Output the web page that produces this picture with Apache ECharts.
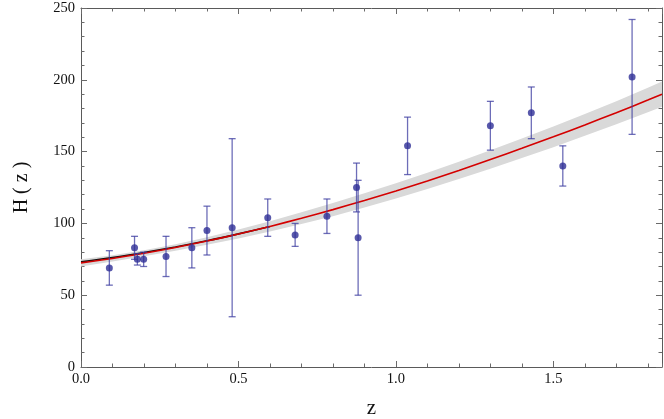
<!DOCTYPE html>
<html>
<head>
<meta charset="utf-8">
<script src="https://cdn.jsdelivr.net/npm/echarts@6/dist/echarts.min.js"></script>
<style>
  html, body { margin: 0; padding: 0; background: #fff; }
  #main { width: 664px; height: 419px; }
</style>
</head>
<body>
<div id="main"></div>
<script>
// observed H(z) points: redshift, value, error
var obsZ   = [0.09, 0.17, 0.179, 0.199, 0.27, 0.352, 0.40, 0.48, 0.593, 0.68, 0.781, 0.875, 0.88, 1.037, 1.30, 1.43, 1.53, 1.75];
var obsH   = [69, 83, 75, 75, 77, 83, 95, 97, 104, 92, 105, 125, 90, 154, 168, 177, 140, 202];
var obsErr = [12, 8, 4, 5, 14, 14, 17, 62, 13, 8, 12, 17, 40, 20, 17, 18, 14, 40];

// best-fit curve and its band
var fitZ  = [0, 0.1, 0.2, 0.3, 0.4, 0.5, 0.6, 0.7, 0.8, 0.9, 1.0, 1.1, 1.2, 1.3, 1.4, 1.5, 1.6, 1.7, 1.8, 1.845];
var fitH  = [72.5, 75.6, 79.2, 83.2, 87.7, 92.6, 97.9, 103.6, 109.6, 116.0, 122.6, 129.6, 136.9, 144.5, 152.3, 160.3, 168.6, 177.1, 185.9, 190.0];
var bandW = [2.5, 2.2, 2.1, 2.2, 2.6, 3.1, 3.6, 4.1, 4.6, 5.0, 5.3, 5.7, 6.0, 6.4, 6.8, 7.2, 7.6, 8.0, 8.5, 8.8];

// second (black) curve, only visible at low z
var blackZ = [0, 0.1, 0.2, 0.3, 0.4, 0.5, 0.6];
var blackH = [73.2, 76.2, 79.7, 83.6, 87.9, 92.7, 97.9];

var xTicks = [0, 0.5, 1.0, 1.5];
var X_MAX = 1.845;
var Y_MAX = 250;

var serif = '"Liberation Serif", "DejaVu Serif", serif';
var frameColor = '#5a5a5a';
var tickColor = '#6a6a6a';

var myChart = echarts.init(document.getElementById('main'), null, { renderer: 'canvas' });

function xAxisDef(pos, interval, major) {
    return {
        type: 'value', position: pos, min: 0, max: X_MAX, interval: interval,
        axisLine: { show: major, onZero: false, lineStyle: { color: frameColor, width: 1 } },
        axisTick: { show: true, inside: true, length: major ? 6 : 3.5, lineStyle: { color: tickColor } },
        axisLabel: { show: false },
        splitLine: { show: false }
    };
}
function yAxisDef(pos) {
    return {
        type: 'value', position: pos, min: 0, max: Y_MAX, interval: 50,
        axisLine: { show: true, onZero: false, lineStyle: { color: frameColor, width: 1 } },
        axisTick: { show: true, inside: true, length: 6, lineStyle: { color: tickColor } },
        minorTick: { show: true, splitNumber: 5, length: 3.5, lineStyle: { color: tickColor } },
        axisLabel: { show: false },
        splitLine: { show: false }
    };
}

var xMain = xAxisDef('bottom', 0.5, true);
xMain.axisLabel = {
    show: true, showMaxLabel: false, margin: 5,
    fontFamily: serif, fontSize: 14.5, color: '#111',
    formatter: function (v) { return xTicks.indexOf(v) >= 0 ? v.toFixed(1) : ''; }
};
xMain.name = 'z';
xMain.nameLocation = 'middle';
xMain.nameGap = 31;
xMain.nameTextStyle = { fontFamily: serif, fontSize: 21, color: '#111' };

var yMain = yAxisDef('left');
yMain.axisLabel = { show: true, margin: 6, fontFamily: serif, fontSize: 14.5, color: '#111' };
yMain.name = 'H ( z )';
yMain.nameLocation = 'middle';
yMain.nameGap = 49;
yMain.nameTextStyle = { fontFamily: serif, fontSize: 20, color: '#111' };

var errData = obsZ.map(function (z, i) { return [z, obsH[i] - obsErr[i], obsH[i] + obsErr[i]]; });
var ptData = obsZ.map(function (z, i) { return [z, obsH[i]]; });
var fitData = fitZ.map(function (z, i) { return [z, fitH[i]]; });
var blackData = blackZ.map(function (z, i) { return [z, blackH[i]]; });

var option = {
    animation: false,
    backgroundColor: '#fff',
    grid: { left: 81, right: 2, top: 8, bottom: 52, containLabel: false, outerBoundsMode: 'none' },
    xAxis: [
        xMain,
        xAxisDef('bottom', 0.1, false),
        xAxisDef('top', 0.5, true),
        xAxisDef('top', 0.1, false)
    ],
    yAxis: [yMain, yAxisDef('right')],
    series: [
        {
            // confidence band
            type: 'custom',
            xAxisIndex: 0, yAxisIndex: 0,
            data: [[fitZ[0], fitH[0]]],
            silent: true,
            z: 1,
            renderItem: function (params, api) {
                var pts = [];
                for (var i = 0; i < fitZ.length; i++) pts.push(api.coord([fitZ[i], fitH[i] + bandW[i]]));
                for (var j = fitZ.length - 1; j >= 0; j--) pts.push(api.coord([fitZ[j], fitH[j] - bandW[j]]));
                return { type: 'polygon', shape: { points: pts }, style: { fill: '#d9d9d9', stroke: null } };
            }
        },
        {
            type: 'line', data: blackData, smooth: 0.3, showSymbol: false, z: 2,
            lineStyle: { color: '#111', width: 1.6 }
        },
        {
            type: 'line', data: fitData, smooth: 0.3, showSymbol: false, z: 3,
            lineStyle: { color: '#d40000', width: 1.6 }
        },
        {
            // error bars
            type: 'custom', data: errData, z: 4,
            encode: { x: 0, y: [1, 2] },
            renderItem: function (params, api) {
                var top = api.coord([api.value(0), api.value(2)]);
                var bot = api.coord([api.value(0), api.value(1)]);
                var hw = 3.5;
                var st = { stroke: 'rgba(60,60,160,0.75)', lineWidth: 1.3 };
                return {
                    type: 'group',
                    children: [
                        { type: 'line', shape: { x1: top[0], y1: top[1], x2: bot[0], y2: bot[1] }, style: st },
                        { type: 'line', shape: { x1: top[0] - hw, y1: top[1], x2: top[0] + hw, y2: top[1] }, style: st },
                        { type: 'line', shape: { x1: bot[0] - hw, y1: bot[1], x2: bot[0] + hw, y2: bot[1] }, style: st }
                    ]
                };
            }
        },
        {
            type: 'scatter', data: ptData, symbol: 'circle', symbolSize: 7, z: 5,
            itemStyle: { color: '#2e2e96' }
        }
    ]
};

myChart.setOption(option);
</script>
</body>
</html>
